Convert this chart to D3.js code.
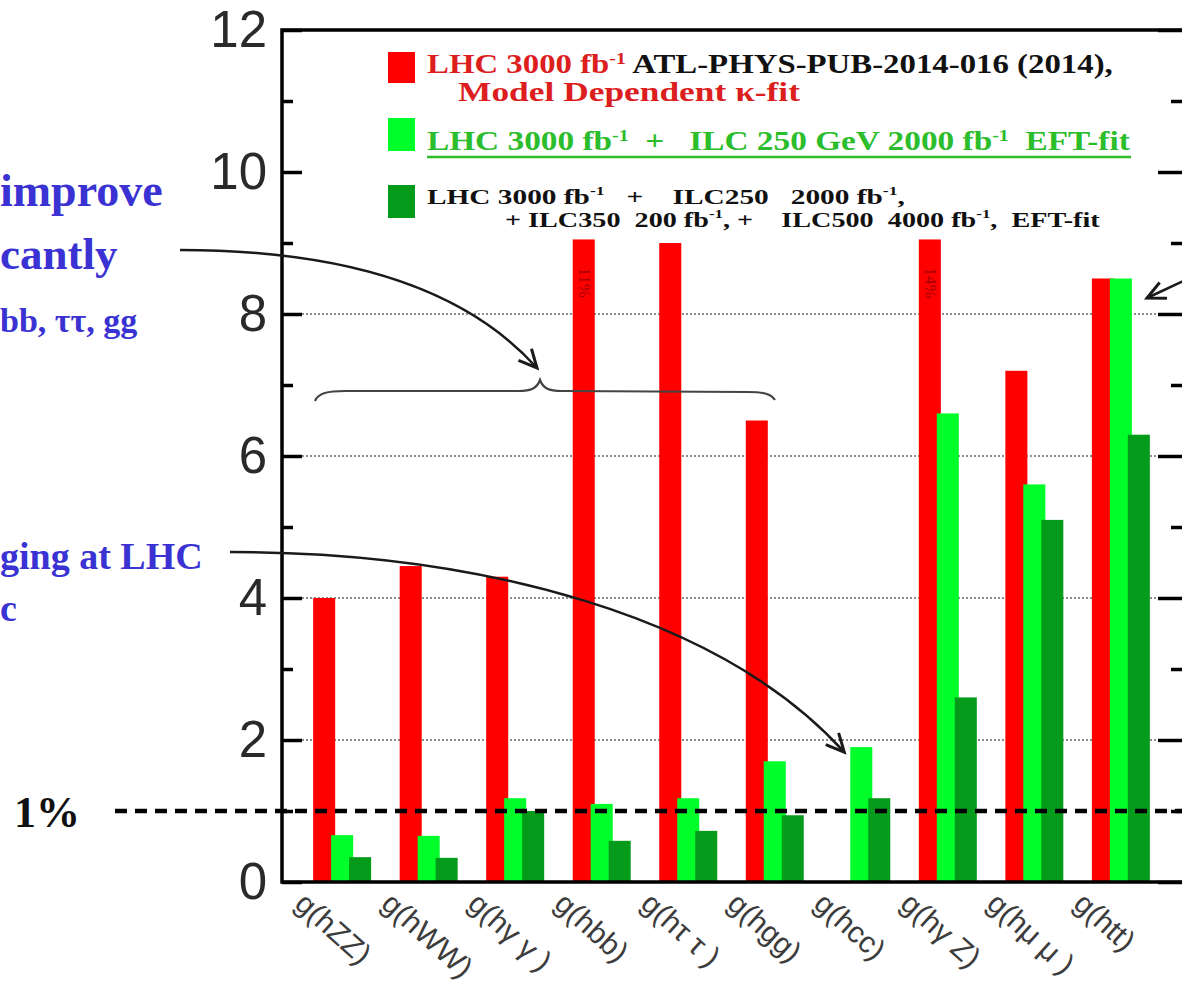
<!DOCTYPE html>
<html>
<head>
<meta charset="utf-8">
<script src="https://cdn.jsdelivr.net/npm/d3@7"></script>
<style>
  html, body { margin: 0; padding: 0; background: #fff; }
  svg { display: block; }
  text { white-space: pre; }
</style>
</head>
<body>
<svg id="chart" width="1182" height="983"></svg>
<script>
// Higgs coupling precision (%) per coupling, three fit scenarios
const categories = ["hZZ", "hWW", "hγγ", "hbb", "hττ", "hgg", "hcc", "hγZ", "hμμ", "htt"];
const tickLabels = ["g(hZZ)", "g(hWW)", "g(hγ γ )", "g(hbb)", "g(hτ τ )", "g(hgg)", "g(hcc)", "g(hγ Z)", "g(hμ μ )", "g(htt)"];
const lhcKappa   = [4.0, 4.45, 4.3, 11, 9.0, 6.5, null, 14, 7.2, 8.5];
const lhcIlc250  = [0.66, 0.65, 1.18, 1.1, 1.18, 1.7, 1.9, 6.6, 5.6, 8.5];
const lhcIlcFull = [0.35, 0.34, 1.0, 0.58, 0.72, 0.94, 1.18, 2.6, 5.1, 6.3];
const yMajorTicks = [0, 2, 4, 6, 8, 10, 12];
const yMinorTicks = [1, 3, 5, 7, 9, 11];
const gridValues = [2, 4, 6, 8];
const onePercent = 1;
const displayCap = 9.05;   // bars above this are cut and carry their value as text

const series = [
  { key: "lhc",  values: lhcKappa,   color: "#ff0000" },
  { key: "ilc250", values: lhcIlc250,  color: "#00ff2a" },
  { key: "ilcAll", values: lhcIlcFull, color: "#049a1a" }
];

const W = 1182, H = 983;
const plot = { left: 282, right: 1187, top: 30, bottom: 882 };
const svg = d3.select("#chart");
svg.append("rect").attr("width", W).attr("height", H).attr("fill", "#fff");

const y = d3.scaleLinear().domain([0, 12]).range([plot.bottom, plot.top]);
const x = d3.scaleBand().domain(categories).range([plot.left, 1181])
  .paddingInner(0.33).paddingOuter(0.36);
const barW = x.bandwidth() * 0.38;
const sub = d3.scalePoint().domain(series.map(s => s.key)).range([0, x.bandwidth() - barW]);

// dotted grid
svg.append("g").selectAll("line").data(gridValues).join("line")
  .attr("x1", plot.left).attr("x2", plot.right)
  .attr("y1", d => y(d)).attr("y2", d => y(d))
  .attr("stroke", "#6a6a6a").attr("stroke-width", 1.6).attr("stroke-dasharray", "2 2");

// bars
series.forEach(s => {
  const rows = categories.map((c, i) => ({ c, v: s.values[i] })).filter(d => d.v != null);
  svg.append("g").selectAll("rect").data(rows).join("rect")
    .attr("x", d => x(d.c) + sub(s.key))
    .attr("width", barW)
    .attr("y", d => y(Math.min(d.v, displayCap)))
    .attr("height", d => y(0) - y(Math.min(d.v, displayCap)))
    .attr("fill", s.color);
  // value text inside cut bars
  svg.append("g").selectAll("text").data(rows.filter(d => d.v > displayCap)).join("text")
    .attr("transform", d => `translate(${x(d.c) + sub(s.key) + barW / 2 - 5},${y(displayCap) + 28}) rotate(90)`)
    .attr("font-family", "Liberation Serif, serif")
    .attr("font-size", 17)
    .attr("fill", "#a80000")
    .text(d => `${d.v}%`);
});

// axes
function styleAxis(g) {
  g.select(".domain").remove();
  g.selectAll(".tick line").attr("stroke", "#000").attr("stroke-width", 3.5);
  g.selectAll(".tick text").attr("font-family", "Liberation Sans, Arial, sans-serif")
    .attr("font-size", 51).attr("fill", "#2a2a2a");
}
svg.append("g").attr("transform", `translate(${plot.left},0)`)
  .call(d3.axisLeft(y).tickValues(yMajorTicks).tickSizeInner(-20).tickSizeOuter(0)
    .tickPadding(15).tickFormat(d3.format("d")))
  .call(styleAxis);
svg.append("g").attr("transform", `translate(${plot.left},0)`)
  .call(d3.axisLeft(y).tickValues(yMinorTicks).tickSizeInner(-11).tickSizeOuter(0).tickFormat(""))
  .call(styleAxis);
svg.append("g").attr("transform", `translate(${plot.right},0)`)
  .call(d3.axisRight(y).tickValues(yMajorTicks).tickSizeInner(-29).tickSizeOuter(0).tickFormat(""))
  .call(styleAxis);
svg.append("g").attr("transform", `translate(${plot.right},0)`)
  .call(d3.axisRight(y).tickValues(yMinorTicks).tickSizeInner(-16).tickSizeOuter(0).tickFormat(""))
  .call(styleAxis);

// frame
svg.append("rect")
  .attr("x", plot.left).attr("y", plot.top)
  .attr("width", plot.right - plot.left).attr("height", plot.bottom - plot.top)
  .attr("fill", "none").attr("stroke", "#000").attr("stroke-width", 3.5);

// category labels
svg.append("g").selectAll("text").data(categories).join("text")
  .attr("transform", d => `translate(${x(d) - 20},${plot.bottom + 24}) rotate(42)`)
  .attr("font-family", "Liberation Sans, Arial, sans-serif")
  .attr("font-size", 30)
  .attr("fill", "#3c3c3c")
  .text((d, i) => tickLabels[i]);

// 1% reference line
svg.append("line")
  .attr("x1", 115).attr("x2", W)
  .attr("y1", y(onePercent)).attr("y2", y(onePercent))
  .attr("stroke", "#000").attr("stroke-width", 4.5).attr("stroke-dasharray", "12 8");
svg.append("text").attr("x", 14).attr("y", y(onePercent) + 16)
  .attr("font-family", "Liberation Serif, serif").attr("font-weight", "bold")
  .attr("font-size", 44).attr("fill", "#111").text("1%");

// side notes
const blue = "#3a32d2";
const notes = [
  { t: "improve", x: 0, y: 206, s: 46 },
  { t: "cantly", x: 0, y: 269, s: 45 },
  { t: "bb, ττ, gg", x: 0, y: 332, s: 34 },
  { t: "ging at LHC", x: 0, y: 569, s: 38 },
  { t: "c", x: 0, y: 621, s: 38 }
];
svg.append("g").selectAll("text").data(notes).join("text")
  .attr("x", d => d.x).attr("y", d => d.y)
  .attr("font-family", "Liberation Serif, serif").attr("font-weight", "bold")
  .attr("font-size", d => d.s).attr("fill", blue).text(d => d.t);

// annotation curves and arrows
const ink = "#1a1a1a";
function arrowHead(tip, from, len, spread) {
  const a = Math.atan2(tip[1] - from[1], tip[0] - from[0]);
  const p1 = [tip[0] - len * Math.cos(a - spread), tip[1] - len * Math.sin(a - spread)];
  const p2 = [tip[0] - len * Math.cos(a + spread), tip[1] - len * Math.sin(a + spread)];
  svg.append("path").attr("d", `M${p1}L${tip}L${p2}`)
    .attr("fill", "none").attr("stroke", ink).attr("stroke-width", 3).attr("stroke-linejoin", "miter");
}
const a1 = { s: [180, 250], c1: [330, 250], c2: [460, 282], e: [537, 368] };
svg.append("path").attr("d", `M${a1.s}C${a1.c1} ${a1.c2} ${a1.e}`)
  .attr("fill", "none").attr("stroke", ink).attr("stroke-width", 2.5);
arrowHead(a1.e, a1.c2, 20, 0.45);

const hcc = categories.indexOf("hcc");
const tip2 = [x("hcc") + sub("ilc250") - 6, y(lhcIlc250[hcc]) + 5];
const a2 = { s: [230, 552], c1: [480, 552], c2: [720, 615] };
svg.append("path").attr("d", `M${a2.s}C${a2.c1} ${a2.c2} ${tip2}`)
  .attr("fill", "none").attr("stroke", ink).attr("stroke-width", 2.5);
arrowHead(tip2, a2.c2, 20, 0.45);

const tip3 = [1147, 298];
svg.append("path").attr("d", `M1190,278L${tip3}`)
  .attr("fill", "none").attr("stroke", ink).attr("stroke-width", 2.5);
arrowHead(tip3, [1190, 278], 20, 0.45);

// brace over the first group of couplings
svg.append("path")
  .attr("d", "M315,401 C318,393 328,391 345,391 L518,391 C532,391 537,388 540,380 C543,388 548,391 562,391 L748,392 C764,392 771,394 775,400")
  .attr("fill", "none").attr("stroke", "#444").attr("stroke-width", 2.2);

// legend
function fitText(sel, x0, target) {
  const w = sel.node().getComputedTextLength();
  sel.attr("transform", `translate(${x0},0) scale(${target / w},1) translate(${-x0},0)`);
}
// text pieces: plain strings, or {sup} for a raised exponent
function richText(t, parts, color) {
  let raised = false;
  parts.forEach(p => {
    const span = t.append("tspan");
    if (color) span.attr("fill", p.color || color);
    if (typeof p === "string" || p.text !== undefined) {
      const s = typeof p === "string" ? p : p.text;
      if (p.color) span.attr("fill", p.color);
      if (raised) { span.attr("dy", 9); raised = false; }
      span.text(s);
    } else {
      span.attr("dy", -9).attr("font-size", "0.6em").text(p.sup);
      if (p.color) span.attr("fill", p.color);
      raised = true;
    }
  });
}
const lg = svg.append("g").attr("font-family", "Liberation Serif, 'Times New Roman', serif").attr("font-weight", "bold");
const legendRed = "#dc1e1e", legendGreen = "#2cbd2c";

lg.append("rect").attr("x", 388).attr("y", 52).attr("width", 27).attr("height", 31).attr("fill", series[0].color);
let t = lg.append("text").attr("x", 427).attr("y", 73).attr("font-size", 27).attr("fill", "#111");
richText(t, [{ text: "LHC 3000 fb", color: legendRed }, { sup: "-1", color: legendRed }, " ATL-PHYS-PUB-2014-016 (2014),"]);
fitText(t, 427, 686);
t = lg.append("text").attr("x", 458).attr("y", 101).attr("font-size", 27).attr("fill", legendRed)
  .text("Model Dependent κ-fit");
fitText(t, 458, 342);

lg.append("rect").attr("x", 388).attr("y", 118).attr("width", 27).attr("height", 33).attr("fill", series[1].color);
t = lg.append("text").attr("x", 427).attr("y", 150).attr("font-size", 27).attr("fill", legendGreen);
richText(t, ["LHC 3000 fb", { sup: "-1" }, "  +   ILC 250 GeV 2000 fb", { sup: "-1" }, "  EFT-fit"]);
fitText(t, 427, 703);
lg.append("line").attr("x1", 427).attr("x2", 1131).attr("y1", 157).attr("y2", 157)
  .attr("stroke", legendGreen).attr("stroke-width", 2.5);

lg.append("rect").attr("x", 388).attr("y", 185).attr("width", 27).attr("height", 33).attr("fill", series[2].color);
t = lg.append("text").attr("x", 427).attr("y", 204).attr("font-size", 21).attr("fill", "#111");
richText(t, ["LHC 3000 fb", { sup: "-1" }, "   +    ILC250   2000 fb", { sup: "-1" }, ","]);
fitText(t, 427, 478);
t = lg.append("text").attr("x", 505).attr("y", 227).attr("font-size", 21).attr("fill", "#111");
richText(t, ["+ ILC350  200 fb", { sup: "-1" }, ", +    ILC500  4000 fb", { sup: "-1" }, ",  EFT-fit"]);
fitText(t, 505, 595);
</script>
</body>
</html>
